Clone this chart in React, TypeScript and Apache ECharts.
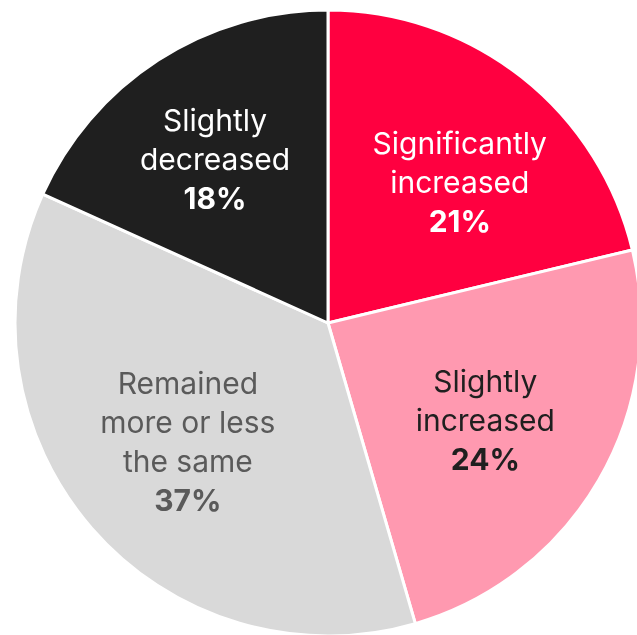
import React, { useEffect, useRef } from "react";
import * as echarts from "echarts";

const categories = [
  "Significantly increased",
  "Slightly increased",
  "Remained more or less the same",
  "Slightly decreased",
];
const labelLines = [
  ["Significantly", "increased"],
  ["Slightly", "increased"],
  ["Remained", "more or less", "the same"],
  ["Slightly", "decreased"],
];
const values = [21.25, 24.25, 36.25, 18.25];
// percentages as printed on the chart
const percentLabels = ["21%", "24%", "37%", "18%"];
const colors = ["#FF0040", "#FF99B0", "#D9D9D9", "#1F1F1F"];
const textColors = ["#FFFFFF", "#1F1F1F", "#5A5A5A", "#FFFFFF"];

export default function App() {
  const ref = useRef<HTMLDivElement>(null);
  useEffect(() => {
    if (!ref.current) return;
    const chart = echarts.init(ref.current, null, { renderer: "svg" });
    const font = "Inter, 'Noto Sans', sans-serif";
    const labelOffsets = [
      [12, 11],
      [-10, 0],
      [6, -8],
      [-8, -1],
    ];
    chart.setOption({
      animation: false,
      series: [
        {
          type: "pie",
          center: [328, 323],
          radius: [0, 313],
          startAngle: 90,
          clockwise: true,
          silent: true,
          label: { show: false },
          labelLine: { show: false },
          itemStyle: { borderColor: "#FFFFFF", borderWidth: 3 },
          data: values.map((v, i) => ({
            name: categories[i],
            value: v,
            itemStyle: { color: colors[i] },
          })),
        },
        {
          type: "pie",
          center: [328, 323],
          radius: [68, 313],
          startAngle: 90,
          clockwise: true,
          silent: true,
          itemStyle: { color: "transparent", borderWidth: 0 },
          labelLine: { show: false },
          data: values.map((v, i) => ({
            name: categories[i],
            value: v,
            label: {
              show: true,
              position: "inside",
              offset: labelOffsets[i],
              formatter: () =>
                labelLines[i].map((l) => `{n|${l}}`).join("\n") +
                `\n{p|${percentLabels[i]}}`,
              rich: {
                n: {
                  color: textColors[i],
                  fontFamily: font,
                  fontSize: 30,
                  lineHeight: 39,
                  fontWeight: 400,
                },
                p: {
                  color: textColors[i],
                  fontFamily: font,
                  fontSize: 30,
                  lineHeight: 39,
                  fontWeight: 700,
                },
              },
            },
          })),
        },
      ],
    });
    return () => chart.dispose();
  }, []);
  return (
    <div
      ref={ref}
      style={{ position: "fixed", left: 0, top: 0, width: 637, height: 635 }}
    />
  );
}
